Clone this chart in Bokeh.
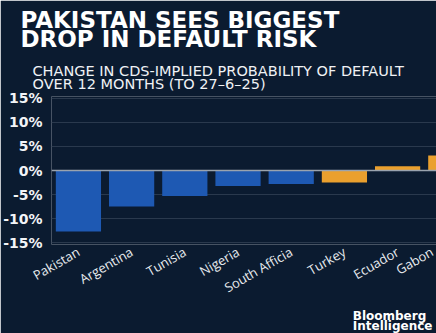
import math
from bokeh.plotting import figure
from bokeh.models import Range1d, FixedTicker, Span, PrintfTickFormatter, Title
from bokeh.embed import file_html
from bokeh.resources import INLINE

# ---- data ----
countries = ["Pakistan", "Argentina", "Tunisia", "Nigeria", "South Afficia",
             "Turkey", "Ecuador", "Gabon"]
change_pct = [-12.7, -7.5, -5.3, -3.2, -2.8, -2.5, 0.9, 3.1]
group = ["blue", "blue", "blue", "blue", "blue", "orange", "orange", "orange"]
y_ticks = [-15, -10, -5, 0, 5, 10, 15]
title_text = "PAKISTAN SEES BIGGEST\nDROP IN DEFAULT RISK"
subtitle_text = ("CHANGE IN CDS-IMPLIED PROBABILITY OF DEFAULT\n"
                 "OVER 12 MONTHS (TO 27\u20136\u201325)")
logo_text = "Bloomberg\nIntelligence"

# ---- style / layout ----
BG = "#0b1b30"
GRID = "#2a394d"
PALETTE = {"blue": "#1e59b3", "orange": "#eaa02e"}
W, H = 436, 333
FL = 43
X_START, X_END = -0.506, 6.731

xs = list(range(len(countries)))
colors = [PALETTE[g] for g in group]

p = figure(width=W, height=H, output_backend="svg", toolbar_location=None,
           title=None,
           x_range=Range1d(X_START, X_END), y_range=Range1d(-15.4, 15.4),
           min_border_left=FL, min_border_right=0,
           min_border_top=0, min_border_bottom=0)
p.background_fill_color = BG
p.border_fill_color = BG
p.outline_line_color = None

p.vbar(x=xs, top=change_pct, bottom=0, width=0.85, fill_color=colors,
       line_color=None)

p.add_layout(Span(location=0, dimension="width", line_color="#9aa3ae",
                  line_width=1.5))

# y axis
p.yaxis.ticker = FixedTicker(ticks=y_ticks)
p.yaxis.formatter = PrintfTickFormatter(format="%d%%")
p.yaxis.axis_line_color = None
p.yaxis.major_tick_line_color = None
p.yaxis.minor_tick_line_color = None
p.yaxis.major_label_text_color = "#f2f4f7"
p.yaxis.major_label_text_font = "DejaVu Sans"
p.yaxis.major_label_text_font_style = "bold"
p.yaxis.major_label_text_font_size = "14px"
p.yaxis.major_label_standoff = 3
p.ygrid.grid_line_color = GRID
p.ygrid.grid_line_width = 1
p.xgrid.grid_line_color = None

# x axis: the last bar runs past the visible range, so its label is
# pinned to the right edge of the range
tick_pos = [min(x, X_END - 0.02) for x in xs]
p.xaxis.ticker = FixedTicker(ticks=tick_pos)
p.xaxis.major_label_overrides = {t: c for t, c in zip(tick_pos, countries)}
p.xaxis.major_label_orientation = math.radians(30)
p.xaxis.axis_line_color = None
p.xaxis.major_tick_line_color = None
p.xaxis.minor_tick_line_color = None
p.xaxis.major_label_text_color = "#e8ebef"
p.xaxis.major_label_text_font = "Open Sans"
p.xaxis.major_label_text_font_size = "13px"
p.xaxis.major_label_standoff = 0

# titles (later-added "above" titles sit further from the plot)
p.add_layout(Title(text=subtitle_text, align="left", text_color="#f0f2f5",
                   text_font="DejaVu Sans", text_font_style="normal",
                   text_font_size="14.5px", text_line_height=0.82,
                   standoff=8, offset=24 - FL), "above")
p.add_layout(Title(text=title_text, align="left", text_color="#ffffff",
                   text_font="DejaVu Sans", text_font_style="bold",
                   text_font_size="23px", text_line_height=0.74,
                   standoff=10, offset=12 - FL), "above")
p.add_layout(Title(text=logo_text, align="right", text_color="#ffffff",
                   text_font="DejaVu Sans", text_font_style="bold",
                   text_font_size="12px", text_line_height=0.74,
                   standoff=0, offset=4), "below")

open("out.html", "w").write(file_html(p, INLINE))
